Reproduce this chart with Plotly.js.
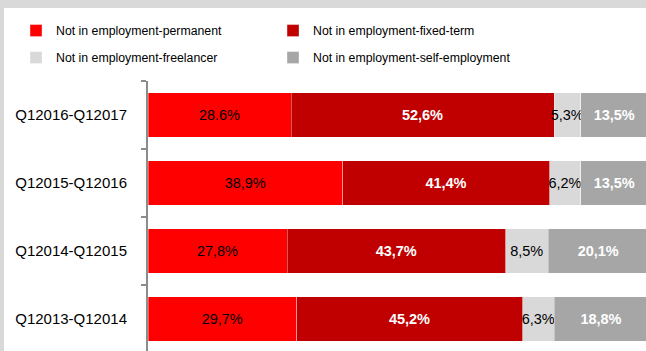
<!DOCTYPE html>
<html>
<head>
<meta charset="utf-8">
<script src="https://cdn.plot.ly/plotly-3.0.1.min.js"></script>
<style>
  html, body { margin: 0; padding: 0; background: #d9d9d9; width: 646px; height: 351px; overflow: hidden; }
  #chart { position: absolute; left: 4px; top: 8px; width: 642px; height: 343px; background: #ffffff; }
</style>
</head>
<body>
<div id="chart"></div>
<script>
// Categories listed bottom to top
var categories = ["Q12013-Q12014", "Q12014-Q12015", "Q12015-Q12016", "Q12016-Q12017"];

var seriesNames = [
  "Not in employment-permanent",
  "Not in employment-fixed-term",
  "Not in employment-freelancer",
  "Not in employment-self-employment"
];

var permanent      = [29.7, 27.8, 38.9, 28.6];
var fixedTerm      = [45.2, 43.7, 41.4, 52.6];
var freelancer     = [6.3, 8.5, 6.2, 5.3];
var selfEmployment = [18.8, 20.1, 13.5, 13.5];

var permanentLabels      = ["29,7%", "27,8%", "38,9%", "28.6%"];
var fixedTermLabels      = ["45,2%", "43,7%", "41,4%", "52,6%"];
var freelancerLabels     = ["6,3%", "8,5%", "6,2%", "5,3%"];
var selfEmploymentLabels = ["18,8%", "20,1%", "13,5%", "13,5%"];

var FONT = "'Liberation Sans', Arial, sans-serif";

function makeTrace(name, group, values, labels, color, textColor, bold) {
  return {
    type: "bar",
    orientation: "h",
    name: name,
    legendgroup: group,
    y: categories,
    x: values,
    text: labels,
    textposition: "inside",
    insidetextanchor: "middle",
    textangle: 0,
    constraintext: "none",
    cliponaxis: true,
    hoverinfo: "skip",
    textfont: { family: FONT, size: 14.5, color: textColor, weight: bold ? "bold" : "normal" },
    marker: { color: color, line: { color: "rgba(255,255,255,0.35)", width: 1 } }
  };
}

var data = [
  makeTrace(seriesNames[0], "g1", permanent, permanentLabels, "#ff0000", "#000000", false),
  makeTrace(seriesNames[1], "g2", fixedTerm, fixedTermLabels, "#c00000", "#ffffff", true),
  makeTrace(seriesNames[2], "g3", freelancer, freelancerLabels, "#d9d9d9", "#000000", false),
  makeTrace(seriesNames[3], "g4", selfEmployment, selfEmploymentLabels, "#a6a6a6", "#ffffff", true)
];

var layout = {
  width: 642,
  height: 343,
  margin: { l: 144, r: 0, t: 73, b: 0, pad: 0 },
  paper_bgcolor: "#ffffff",
  plot_bgcolor: "#ffffff",
  barmode: "stack",
  bargap: 0.34,
  showlegend: true,
  font: { family: FONT, color: "#000000" },
  legend: {
    orientation: "h",
    xref: "paper",
    yref: "paper",
    x: -0.265,
    xanchor: "left",
    y: 1.2406,
    yanchor: "top",
    traceorder: "grouped",
    tracegroupgap: 8,
    entrywidth: 212,
    entrywidthmode: "pixels",
    font: { family: FONT, size: 12.3, color: "#000000" },
    bgcolor: "rgba(0,0,0,0)"
  },
  xaxis: {
    range: [0, 99.6],
    showticklabels: false,
    showgrid: false,
    zeroline: false,
    showline: false,
    ticks: "",
    fixedrange: true
  },
  yaxis: {
    type: "category",
    categoryorder: "array",
    categoryarray: categories,
    range: [-0.47, 3.5],
    showline: true,
    linecolor: "#8c8c8c",
    linewidth: 2,
    ticks: "outside",
    tickson: "boundaries",
    ticklen: 5,
    tickwidth: 2,
    tickcolor: "#8c8c8c",
    ticklabelstandoff: 16,
    showgrid: false,
    zeroline: false,
    tickfont: { family: FONT, size: 15, color: "#000000" },
    fixedrange: true
  }
};

Plotly.newPlot("chart", data, layout, { displayModeBar: false, staticPlot: true });
</script>
</body>
</html>
